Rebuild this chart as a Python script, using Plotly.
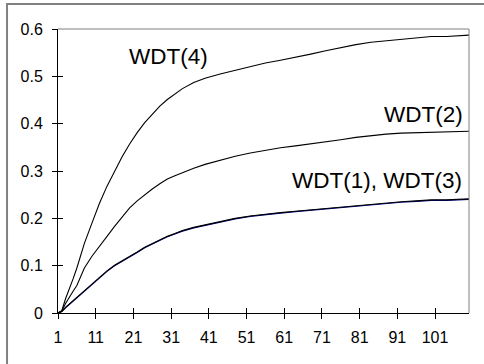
import plotly.graph_objects as go

# Sampled step positions and the four WDT series
steps = [1, 2, 3, 4, 5, 6, 8, 10, 12, 14, 16, 18, 20, 22, 24, 26, 28, 30, 32, 34,
         37, 40, 44, 48, 52, 56, 60, 64, 68, 72, 76, 80, 84, 88, 92, 96, 100, 104, 107, 110]

wdt4 = [0, 0.005, 0.03, 0.05, 0.072, 0.095, 0.147, 0.19, 0.232, 0.268, 0.300, 0.330,
        0.357, 0.381, 0.402, 0.420, 0.437, 0.451, 0.463, 0.474, 0.487, 0.496, 0.505,
        0.513, 0.521, 0.528, 0.534, 0.540, 0.547, 0.554, 0.561, 0.567, 0.572, 0.575,
        0.578, 0.581, 0.584, 0.584, 0.585, 0.587]

wdt2 = [0, 0.004, 0.02, 0.034, 0.046, 0.058, 0.095, 0.120, 0.140, 0.162, 0.183, 0.203,
        0.222, 0.237, 0.250, 0.262, 0.273, 0.283, 0.290, 0.297, 0.306, 0.314, 0.323,
        0.331, 0.338, 0.344, 0.349, 0.353, 0.357, 0.361, 0.366, 0.371, 0.375, 0.378,
        0.380, 0.381, 0.383, 0.384, 0.384, 0.384]

wdt1 = [0, 0.003, 0.012, 0.019, 0.027, 0.034, 0.049, 0.063, 0.077, 0.089, 0.101, 0.110,
        0.120, 0.129, 0.139, 0.147, 0.154, 0.162, 0.168, 0.174, 0.181, 0.186, 0.194,
        0.200, 0.205, 0.209, 0.212, 0.215, 0.218, 0.220, 0.223, 0.226, 0.229, 0.232,
        0.235, 0.237, 0.239, 0.239, 0.240, 0.241]

wdt3 = [0, 0.003, 0.011, 0.018, 0.026, 0.033, 0.048, 0.062, 0.076, 0.088, 0.100, 0.109,
        0.119, 0.128, 0.138, 0.146, 0.153, 0.161, 0.167, 0.173, 0.180, 0.185, 0.193,
        0.199, 0.204, 0.208, 0.211, 0.214, 0.217, 0.219, 0.222, 0.225, 0.228, 0.231,
        0.234, 0.236, 0.238, 0.238, 0.239, 0.240]

x_ticks = [1, 11, 21, 31, 41, 51, 61, 71, 81, 91, 101]
y_ticks = [0, 0.1, 0.2, 0.3, 0.4, 0.5, 0.6]
y_labels = ["0", "0.1", "0.2", "0.3", "0.4", "0.5", "0.6"]

FONT = "Liberation Sans, Arial, sans-serif"

fig = go.Figure()
fig.add_trace(go.Scatter(x=steps, y=wdt3, mode="lines", name="WDT(3)",
                         line=dict(color="#000080", width=1.2)))
fig.add_trace(go.Scatter(x=steps, y=wdt1, mode="lines", name="WDT(1)",
                         line=dict(color="#000000", width=1.2)))
fig.add_trace(go.Scatter(x=steps, y=wdt2, mode="lines", name="WDT(2)",
                         line=dict(color="#000000", width=1.1)))
fig.add_trace(go.Scatter(x=steps, y=wdt4, mode="lines", name="WDT(4)",
                         line=dict(color="#000000", width=1.1)))
# invisible trace carrying the inner tick marks
fig.add_trace(go.Scatter(x=[1], y=[0], xaxis="x2", yaxis="y2", mode="markers",
                         marker=dict(opacity=0), showlegend=False, hoverinfo="skip"))

x_range = [1, 110]
y_range = [0, 0.6]

fig.update_layout(
    width=484, height=364,
    margin=dict(l=58, r=15, t=29, b=51),
    paper_bgcolor="white", plot_bgcolor="white",
    showlegend=False,
    font=dict(family=FONT, color="black"),
    xaxis=dict(range=x_range, tickvals=x_ticks, ticks="outside", ticklen=5,
               tickcolor="black", showline=True, linecolor="black", linewidth=1,
               showgrid=False, zeroline=False, tickfont=dict(size=16),
               ticklabelstandoff=5),
    yaxis=dict(range=y_range, tickvals=y_ticks, ticktext=y_labels,
               ticks="outside", ticklen=5,
               tickcolor="black", showline=True, linecolor="black", linewidth=1,
               showgrid=False, zeroline=False, tickfont=dict(size=16),
               ticklabelstandoff=6),
    xaxis2=dict(range=x_range, tickvals=x_ticks, ticks="inside", ticklen=5,
                tickcolor="black", showticklabels=False, showline=False,
                showgrid=False, zeroline=False, overlaying="x", anchor="y2"),
    yaxis2=dict(range=y_range, tickvals=y_ticks, ticks="inside", ticklen=5,
                tickcolor="black", showticklabels=False, showline=False,
                showgrid=False, zeroline=False, overlaying="y", anchor="x2"),
    shapes=[
        # plot-area frame on top and right
        dict(type="line", xref="paper", yref="paper", x0=0, x1=1, y0=1, y1=1,
             line=dict(color="#808080", width=1)),
        dict(type="line", xref="paper", yref="paper", x0=1, x1=1, y0=0, y1=1,
             line=dict(color="#808080", width=1)),
        # chart-area border
        dict(type="rect", xref="paper", yref="paper", x0=-0.124, x1=1.2, y0=-0.3, y1=1.088,
             line=dict(color="#808080", width=2)),
    ],
    annotations=[
        dict(x=30.3, y=0.537, text="WDT(4)", showarrow=False, xanchor="center",
             yanchor="middle", yshift=2, font=dict(size=22.5)),
        dict(x=109.0, y=0.413, text="WDT(2)", showarrow=False, xanchor="right",
             yanchor="middle", yshift=3, font=dict(size=22.5)),
        dict(x=108.8, y=0.273, text="WDT(1), WDT(3)", showarrow=False, xanchor="right",
             yanchor="middle", yshift=3, font=dict(size=22.5)),
    ],
)

fig.write_html("out.html")
